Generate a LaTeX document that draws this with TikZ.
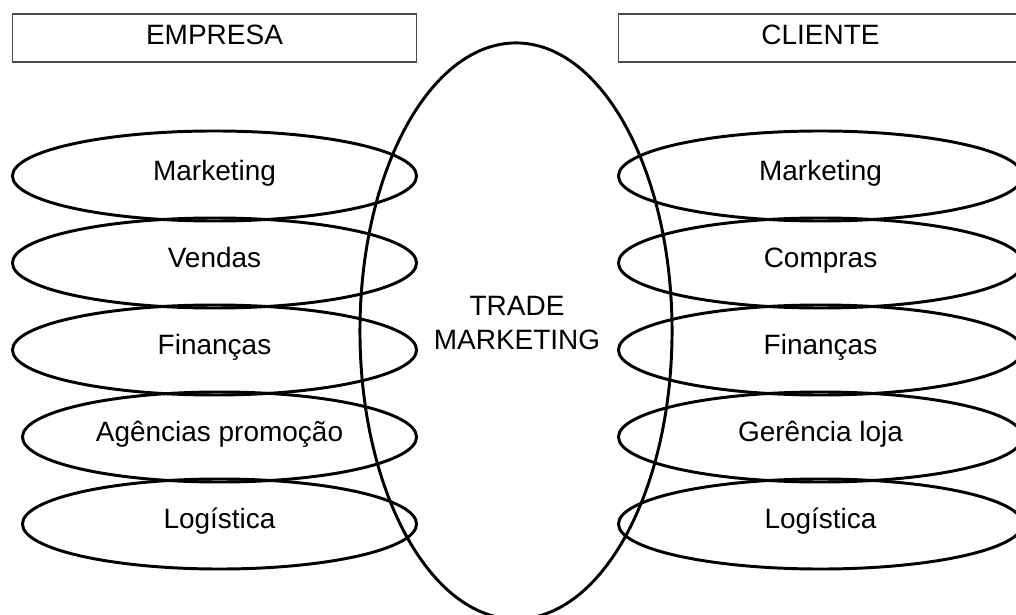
\documentclass[tikz,border=0pt]{standalone}
\usepackage{fontspec}
\setmainfont{Liberation Sans}
\usetikzlibrary{shapes.geometric}

\tikzset{
  area/.style={draw=black,line width=2.1pt,ellipse,inner sep=0pt,
    minimum width=10.1cm,minimum height=2.25cm,text height=0.86em,text depth=0.2em},
  narrow/.style={area,minimum width=9.85cm},
  side/.style={draw=black!70,line width=1.1pt,rectangle,inner sep=0pt,
    minimum width=10.1cm,minimum height=1.2cm,text height=1.08em,text depth=0.2em}
}

\begin{document}
\begin{tikzpicture}[x=0.025cm,y=-0.025cm,font=\fontsize{19.9}{24}\selectfont]
\useasboundingbox (0,0) rectangle (1016,615);
\clip (0,0) rectangle (1016,615);

% headers
\node[side] (empresa) at (214.5,38) {EMPRESA};
\node[side] (cliente) at (820.5,38) {CLIENTE};

% trade marketing in the middle:
\node[draw=black,line width=2.1pt,ellipse,inner sep=0pt,minimum width=7.8cm,minimum height=14.4cm] (tm) at (516,331) {};
\node[align=center] (tmtext) at (517,323) {TRADE\\MARKETING};

% company side:
\node[area] (emkt) at (214.5,176) {Marketing};
\node[area] (evnd) at (214.5,263) {Vendas};
\node[area] (efin) at (214.5,350) {Finanças};
\node[narrow] (eage) at (219.5,437) {Agências promoção};
\node[narrow] (elog) at (219.5,524) {Logística};

% client side:
\node[area] (cmkt) at (820.5,176) {Marketing};
\node[area] (ccmp) at (820.5,263) {Compras};
\node[area] (cfin) at (820.5,350) {Finanças};
\node[area] (cger) at (820.5,437) {Gerência loja};
\node[area] (clog) at (820.5,524) {Logística};

\end{tikzpicture}
\end{document}
